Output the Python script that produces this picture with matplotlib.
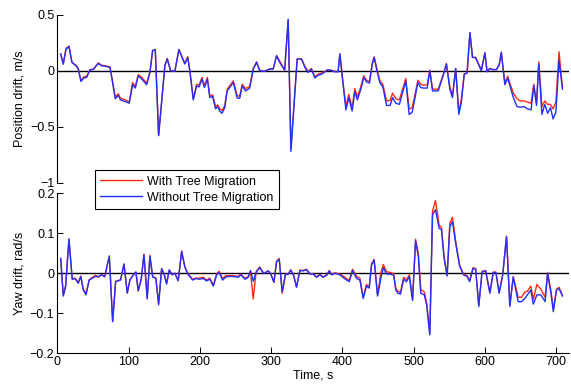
import matplotlib.pyplot as plt

plt.rcParams['font.family'] = ['Liberation Sans', 'DejaVu Sans']
plt.rcParams['font.size'] = 9

# position drift (top panel)
t_pos = [4.8, 8.4, 12.2, 16.4, 20.6, 26.2, 29.5, 33.2, 37, 41.2, 45.9, 50.5, 57.5, 62, 67, 74,
         81.4, 85.6, 88.6, 93, 97.3, 101, 105.7, 109.5, 113.6, 118, 125.4, 130, 133.8, 137.5, 142.2,
         151, 154.3, 159, 165, 170.7, 175, 179, 183, 186, 190.8, 195.5, 199, 203, 206.5, 210.6,
         214, 218, 222, 225, 228, 231, 235, 238.5, 247, 252.5, 256, 259.5, 264, 270, 275, 279.7,
         284, 291, 298, 303, 307.7, 312, 319, 324, 327.8, 336.6, 342.7, 347.4, 352, 356.6, 361.4,
         366, 371, 375.6, 380, 385, 389.6, 394, 396.5, 401, 405, 409, 413.7, 417.5, 421, 426, 430,
         434, 438, 442, 444.6, 448, 452.6, 457, 462, 467, 470.4, 475, 480, 489, 493.7, 498, 506,
         510, 514, 519, 522.7, 526.5, 530, 534.5, 541.4, 546, 550.8, 554.5, 559, 563.4, 567, 571,
         575, 579, 582.6, 587, 595, 600, 603, 607, 611, 616, 620, 623, 628, 632, 636, 640, 645,
         650, 655, 659.7, 664.8, 668.6, 672.4, 675.6, 680, 684, 688, 692, 695.7, 699.6, 704, 708.8]
pos_without = [0.149, 0.06, 0.19, 0.217, 0.074, 0.045, 0.015, -0.095, -0.065, -0.06, 0.009, 0.01,
               0.065, 0.045, 0.04, 0.03, -0.25, -0.22, -0.26, -0.27, -0.28, -0.29, -0.125, -0.155,
               -0.045, -0.07, -0.125, -0.015, 0.18, 0.19, -0.58, 0.045, 0.105, 0.0, -0.005, 0.19,
               0.12, 0.06, 0.12, 0.0, -0.26, -0.135, -0.145, -0.075, -0.15, -0.075, -0.24, -0.23,
               -0.34, -0.32, -0.36, -0.38, -0.33, -0.18, -0.105, -0.245, -0.245, -0.135, -0.18,
               -0.155, 0.015, 0.075, 0.0, -0.005, 0.015, 0.015, 0.134, 0.075, 0.006, 0.46, -0.72,
               0.105, 0.105, 0.03, -0.015, 0.015, -0.065, -0.04, -0.03, -0.01, 0.01, 0.0, -0.01,
               -0.01, 0.15, -0.12, -0.35, -0.24, -0.36, -0.185, -0.26, -0.165, -0.06, -0.1, -0.11,
               0.06, 0.12, 0.015, -0.105, -0.15, -0.31, -0.31, -0.24, -0.29, -0.3, -0.09, -0.39,
               -0.37, -0.105, -0.15, -0.155, -0.155, 0.0, -0.18, -0.18, -0.18, -0.045, 0.06, -0.165,
               -0.24, 0.02, -0.39, -0.28, -0.03, -0.02, 0.34, 0.12, 0.115, 0.0, 0.16, -0.01, 0.02,
               0.01, 0.01, 0.05, 0.165, -0.125, -0.065, -0.155, -0.24, -0.32, -0.325, -0.32, -0.34,
               -0.35, -0.135, -0.31, 0.06, -0.39, -0.3, -0.38, -0.33, -0.43, -0.37, 0.095, -0.165]
pos_with = [0.15, 0.06, 0.2, 0.22, 0.075, 0.05, 0.02, -0.09, -0.055, -0.05, 0.01, 0.015,
            0.07, 0.05, 0.045, 0.035, -0.235, -0.205, -0.245, -0.255, -0.265, -0.28, -0.105, -0.14,
            -0.035, -0.055, -0.11, -0.01, 0.18, 0.19, -0.575, 0.05, 0.11, 0.0, 0.0, 0.19,
            0.125, 0.065, 0.125, 0.0, -0.25, -0.12, -0.13, -0.06, -0.135, -0.06, -0.225, -0.215,
            -0.32, -0.305, -0.34, -0.355, -0.31, -0.165, -0.09, -0.225, -0.225, -0.12, -0.16,
            -0.14, 0.02, 0.08, 0.005, -0.005, 0.015, 0.02, 0.135, 0.09, 0.005, 0.45, -0.7,
            0.105, 0.105, 0.04, -0.005, 0.02, -0.055, -0.03, -0.02, -0.005, 0.01, 0.005, -0.005,
            -0.005, 0.15, -0.11, -0.32, -0.21, -0.33, -0.16, -0.235, -0.14, -0.045, -0.085, -0.095,
            0.065, 0.125, 0.03, -0.085, -0.125, -0.27, -0.265, -0.2, -0.25, -0.26, -0.07, -0.34,
            -0.33, -0.085, -0.12, -0.13, -0.125, 0.005, -0.16, -0.165, -0.165, -0.035, 0.065, -0.145,
            -0.22, 0.02, -0.37, -0.25, -0.03, -0.02, 0.34, 0.12, 0.12, 0.005, 0.16, -0.005, 0.02,
            0.01, 0.01, 0.05, 0.165, -0.11, -0.05, -0.13, -0.2, -0.25, -0.27, -0.27, -0.28,
            -0.29, -0.12, -0.29, 0.08, -0.32, -0.27, -0.3, -0.3, -0.34, -0.28, 0.17, -0.15]

# yaw drift (bottom panel)
t_yaw = [4.8, 8.4, 11.7, 16.4, 21, 24.8, 29.5, 33, 36.5, 40.3, 44.8, 49.5, 53.6, 58, 62, 66.5,
         73, 77.7, 81.9, 88.8, 93.6, 98.2, 102, 106.5, 110.3, 113.6, 118, 121.6, 126.2, 130, 133.8,
         138.3, 142.2, 146.4, 150, 153.4, 157, 161.4, 165, 169.7, 174.5, 179, 183, 190, 194.6, 199,
         204.8, 209.5, 214, 219, 223.6, 227, 232, 236.7, 242, 247, 254, 257.5, 263.5, 268, 271, 275,
         279, 284, 289.7, 296, 299.5, 304, 307.7, 311.4, 315.6, 320.2, 324, 327.5, 331.7, 335.7,
         340.4, 345, 349.7, 354.4, 359, 363.7, 368.4, 373, 378, 381.6, 385, 389.6, 396.6, 403.6,
         409.7, 414.3, 420, 424.6, 429.2, 433.9, 437.7, 441, 444.6, 449.4, 454, 457.5, 462, 467,
         472, 475, 478, 481.5, 486, 490, 494, 498.5, 502.7, 506.6, 510, 515, 518.3, 522.7, 526.5,
         530.7, 535.8, 539, 542.8, 547, 550.8, 554.5, 559, 564.5, 570, 575, 578.6, 583.3, 587,
         591.4, 596, 601, 607, 611.7, 615.4, 620, 625, 630.3, 635, 639.7, 646.7, 651.4, 656, 659.6,
         664.3, 668, 672.9, 678.5, 684.5, 688, 692.7, 696, 700.5, 704, 708.8]
yaw_without = [0.0375, -0.057, -0.034, 0.086, -0.015, -0.013, -0.025, -0.008, -0.042, -0.054,
               -0.017, -0.012, -0.008, -0.008, -0.004, -0.009, 0.043, -0.121, -0.021, -0.017, 0.023,
               -0.05, -0.017, -0.005, 0.003, -0.043, -0.013, 0.046, -0.064, 0.042, -0.009, -0.013,
               -0.079, 0.011, -0.003, -0.027, 0.008, -0.004, 0.0, -0.019, 0.054, 0.016, -0.002,
               -0.017, -0.013, -0.015, -0.013, -0.019, -0.015, -0.032, -0.004, 0.002, -0.017, -0.009,
               -0.008, -0.008, -0.01, -0.004, -0.015, -0.01, 0.007, -0.02, 0.002, 0.014, -0.001,
               0.006, -0.002, -0.023, 0.029, 0.035, -0.046, -0.003, -0.003, 0.008, -0.006, -0.035,
               0.007, 0.006, 0.009, -0.002, -0.002, -0.01, -0.004, -0.01, -0.005, 0.006, -0.004, 0.0,
               -0.004, -0.014, -0.021, 0.007, -0.013, -0.017, -0.063, -0.032, -0.037, 0.021, 0.033,
               -0.057, -0.013, 0.014, -0.002, -0.002, -0.005, -0.042, -0.05, -0.052, -0.015, -0.021,
               -0.008, -0.068, 0.081, 0.041, -0.05, -0.054, -0.079, -0.154, 0.146, 0.159, 0.112,
               0.11, 0.037, -0.007, 0.117, 0.129, 0.075, 0.018, -0.004, -0.008, -0.021, 0.012, 0.01,
               -0.083, 0.003, 0.006, -0.05, 0.002, 0.002, -0.05, -0.004, 0.092, -0.083, -0.01,
               -0.071, -0.071, -0.063, -0.054, -0.042, -0.077, -0.054, -0.054, -0.071, 0.0, -0.05,
               -0.096, -0.042, -0.038, -0.057]
yaw_with = [0.035, -0.055, -0.03, 0.085, -0.015, -0.012, -0.022, -0.007, -0.04, -0.05,
            -0.016, -0.01, -0.005, -0.01, -0.003, -0.008, 0.043, -0.12, -0.02, -0.016, 0.023,
            -0.048, -0.016, -0.004, 0.003, -0.045, -0.012, 0.048, -0.062, 0.045, -0.008, -0.012,
            -0.075, 0.012, -0.002, -0.025, 0.008, -0.003, 0.0, -0.018, 0.056, 0.016, 0.0,
            -0.015, -0.012, -0.012, -0.01, -0.017, -0.012, -0.03, -0.002, 0.005, -0.013, -0.006,
            -0.006, -0.006, -0.008, -0.002, -0.013, -0.008, 0.005, -0.064, 0.004, 0.016, 0.0,
            0.006, -0.001, -0.022, 0.03, 0.037, -0.05, -0.002, -0.002, 0.009, -0.005, -0.034,
            0.008, 0.007, 0.01, -0.001, -0.001, -0.009, -0.003, -0.009, -0.004, 0.007, -0.003, 0.001,
            -0.002, -0.01, -0.018, 0.01, -0.008, -0.012, -0.06, -0.028, -0.034, 0.024, 0.035,
            -0.055, 0.001, 0.022, 0.004, 0.002, -0.001, -0.038, -0.045, -0.048, -0.01, -0.016,
            -0.004, -0.065, 0.085, 0.05, -0.04, -0.047, -0.075, -0.15, 0.155, 0.182, 0.12,
            0.115, 0.04, -0.005, 0.125, 0.14, 0.08, 0.02, -0.002, -0.006, -0.018, 0.014, 0.012,
            -0.08, 0.005, 0.007, -0.048, 0.003, 0.003, -0.048, -0.003, 0.092, -0.08, -0.008,
            -0.06, -0.06, -0.047, -0.045, -0.032, -0.065, -0.028, -0.04, -0.06, 0.002, -0.045,
            -0.09, -0.04, -0.035, -0.055]

labels = ['With Tree Migration', 'Without Tree Migration']
red = '#ff2a10'
blue = '#2030ff'

fig = plt.figure(figsize=(5.71, 3.88), dpi=100)
ax1 = fig.add_axes([0.1003, 0.529, 0.8962, 0.433])
ax2 = fig.add_axes([0.1003, 0.0894, 0.8962, 0.4126])

l1, = ax1.plot(t_pos, pos_with, color=red, lw=1.0)
l2, = ax1.plot(t_pos, pos_without, color=blue, lw=1.0)
ax2.plot(t_yaw, yaw_with, color=red, lw=1.0)
ax2.plot(t_yaw, yaw_without, color=blue, lw=1.0)

for ax in (ax1, ax2):
    ax.axhline(0, color='black', lw=1.0, zorder=1)
    ax.set_xlim(0, 718)
    ax.spines['top'].set_visible(False)
    ax.spines['right'].set_visible(False)
    ax.tick_params(direction='in', length=4, width=0.7, pad=2)
    ax.spines['left'].set_linewidth(0.8)
    ax.spines['bottom'].set_linewidth(0.8)

ax1.set_ylim(-1, 0.5)
ax1.set_yticks([-1, -0.5, 0, 0.5])
ax1.set_yticklabels(['\u22121', '\u22120.5', '0', '0.5'])
ax1.spines['bottom'].set_visible(False)
ax1.set_xticks([])
ax1.set_ylabel('Position drift, m/s', labelpad=3)

ax2.set_ylim(-0.2, 0.2)
ax2.set_yticks([-0.2, -0.1, 0, 0.1, 0.2])
ax2.set_yticklabels(['\u22120.2', '\u22120.1', '0', '0.1', '0.2'])
ax2.set_xticks(range(0, 701, 100))
ax2.set_xlabel('Time, s', labelpad=1)
ax2.set_ylabel('Yaw drift, rad/s', labelpad=3)

leg = fig.legend([l1, l2], labels, loc='lower left',
                 bbox_to_anchor=(0.166, 0.461), bbox_transform=fig.transFigure,
                 borderaxespad=0, fancybox=False, framealpha=1, edgecolor='black',
                 handlelength=3.3, handletextpad=0.45, labelspacing=0.3, borderpad=0.45,
                 fontsize=9)
leg.get_frame().set_linewidth(0.8)

fig.savefig('out.png', dpi=100)
